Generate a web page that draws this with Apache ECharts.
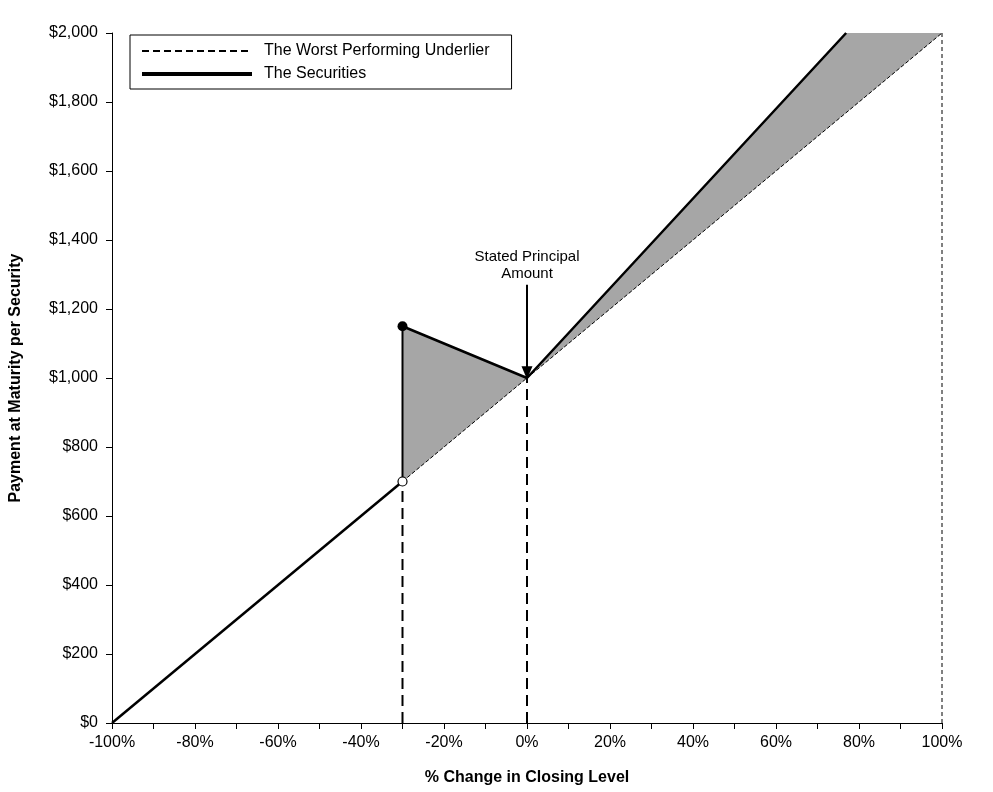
<!DOCTYPE html>
<html>
<head>
<meta charset="utf-8">
<script src="https://cdn.jsdelivr.net/npm/echarts@6/dist/echarts.min.js"></script>
<style>
  html, body { margin: 0; padding: 0; background: #fff; }
  #chart { width: 993px; height: 792px; }
</style>
</head>
<body>
<div id="chart"></div>
<script>
// x = % change in closing level, y = payment at maturity ($)
var underlier = [[-100, 0], [100, 2000]];
var securitiesLow = [[-100, 0], [-30, 700]];
var securitiesHigh = [[-30, 1150], [0, 1000], [76.9, 2000]];
var jumpLine = [[-30, 700], [-30, 1150]];
var shadeDown = [[-30, 700], [-30, 1150], [0, 1000]];
var shadeUp = [[0, 1000], [76.9, 2000], [100, 2000]];
var barrierLine = [[-30, 0], [-30, 700]];
var principalLine = [[0, 0], [0, 1000]];
var endLine = [[100, 0], [100, 2000]];
var arrowFrom = [0, 1270];
var arrowTo = [0, 1015];
var arrowText = [[0, 1326]];
var xTicks = { min: -100, max: 100, interval: 20 };
var yTicks = { min: 0, max: 2000, interval: 200 };

var font = 'Liberation Sans, Arial, sans-serif';

function shade(pts) {
    return {
        type: 'custom',
        silent: true,
        z: 1,
        data: [0],
        renderItem: function (params, api) {
            return {
                type: 'polygon',
                shape: { points: pts.map(function (p) { return api.coord(p); }) },
                style: { fill: '#a6a6a6', stroke: null }
            };
        }
    };
}

function plainLine(data, width, dash, z) {
    return {
        type: 'line',
        data: data,
        symbol: 'none',
        silent: true,
        z: z || 3,
        lineStyle: { color: '#000', width: width, type: dash }
    };
}

var myChart = echarts.init(document.getElementById('chart'));
var option = {
    backgroundColor: '#fff',
    animation: false,
    color: ['#000'],
    textStyle: { fontFamily: font },
    grid: { left: 112, right: 51, top: 33, bottom: 69, outerBoundsMode: 'none', containLabel: false },
    legend: {
        left: 130,
        top: 35,
        orient: 'vertical',
        backgroundColor: '#fff',
        borderColor: '#000',
        borderWidth: 1,
        borderRadius: 0,
        padding: [8, 22, 7, 10],
        itemWidth: 110,
        itemHeight: 14,
        itemGap: 7,
        textStyle: { fontFamily: font, fontSize: 16, color: '#000', padding: [0, 0, 0, 7] },
        data: [
            { name: 'The Worst Performing Underlier',
              itemStyle: { opacity: 0 },
              lineStyle: { color: '#000', width: 2, type: [7, 4], opacity: 1 } },
            { name: 'The Securities',
              itemStyle: { opacity: 0 },
              lineStyle: { color: '#000', width: 4, type: 'solid', opacity: 1 } }
        ]
    },
    xAxis: {
        type: 'value',
        min: xTicks.min,
        max: xTicks.max,
        interval: xTicks.interval,
        name: '% Change in Closing Level',
        nameLocation: 'middle',
        nameGap: 47,
        nameTextStyle: { fontFamily: font, fontSize: 16, fontWeight: 'bold', color: '#000' },
        axisLine: { onZero: false, lineStyle: { color: '#000', width: 1 } },
        axisTick: { show: true, length: 6, lineStyle: { color: '#000' } },
        minorTick: { show: true, splitNumber: 2, length: 6, lineStyle: { color: '#000' } },
        splitLine: { show: false },
        axisLabel: {
            fontFamily: font, fontSize: 16, color: '#000', margin: 12,
            formatter: function (v) { return v + '%'; }
        }
    },
    yAxis: {
        type: 'value',
        min: yTicks.min,
        max: yTicks.max,
        interval: yTicks.interval,
        name: 'Payment at Maturity per Security',
        nameLocation: 'middle',
        nameGap: 88,
        nameTextStyle: { fontFamily: font, fontSize: 16, fontWeight: 'bold', color: '#000' },
        axisLine: { show: true, onZero: false, lineStyle: { color: '#000', width: 1 } },
        axisTick: { show: true, length: 6, lineStyle: { color: '#000' } },
        splitLine: { show: false },
        axisLabel: {
            fontFamily: font, fontSize: 16, color: '#000', margin: 14,
            formatter: function (v) { return '$' + v.toLocaleString('en-US'); }
        }
    },
    series: [
        shade(shadeDown),
        shade(shadeUp),
        plainLine(barrierLine, 2, [11, 6], 2),
        plainLine(principalLine, 2, [11, 6], 2),
        plainLine(endLine, 1, [4, 3], 2),
        {
            name: 'The Worst Performing Underlier',
            type: 'line',
            data: underlier,
            symbol: 'none',
            z: 3,
            itemStyle: { color: '#000' },
            lineStyle: { color: '#000', width: 1, type: [4, 2] }
        },
        {
            name: 'The Securities',
            type: 'line',
            data: securitiesLow,
            symbol: 'none',
            z: 4,
            itemStyle: { color: '#000' },
            lineStyle: { color: '#000', width: 2.5 }
        },
        {
            name: 'The Securities',
            type: 'line',
            data: securitiesHigh,
            symbol: 'none',
            z: 4,
            itemStyle: { color: '#000' },
            lineStyle: { color: '#000', width: 2.5 },
            markLine: {
                silent: true,
                symbol: ['none', 'triangle'],
                symbolSize: [11, 13],
                label: { show: false },
                lineStyle: { color: '#000', width: 2, type: 'solid' },
                data: [[{ coord: arrowFrom }, { coord: arrowTo }]]
            }
        },
        plainLine(jumpLine, 2, 'solid', 4),
        {
            type: 'scatter',
            silent: true,
            z: 6,
            data: [securitiesHigh[0]],
            symbol: 'circle',
            symbolSize: 10,
            itemStyle: { color: '#000', opacity: 1 }
        },
        {
            type: 'scatter',
            silent: true,
            z: 6,
            data: [securitiesLow[1]],
            symbol: 'circle',
            symbolSize: 9,
            itemStyle: { color: '#fff', borderColor: '#000', borderWidth: 1.2, opacity: 1 }
        },
        {
            type: 'scatter',
            silent: true,
            z: 5,
            data: arrowText,
            symbolSize: 1,
            itemStyle: { opacity: 0 },
            label: {
                show: true,
                position: 'inside',
                formatter: 'Stated Principal\nAmount',
                fontFamily: font,
                fontSize: 15,
                lineHeight: 17,
                color: '#000',
                opacity: 1,
                textBorderWidth: 0,
                align: 'center'
            }
        }
    ]
};
myChart.setOption(option);
</script>
</body>
</html>
